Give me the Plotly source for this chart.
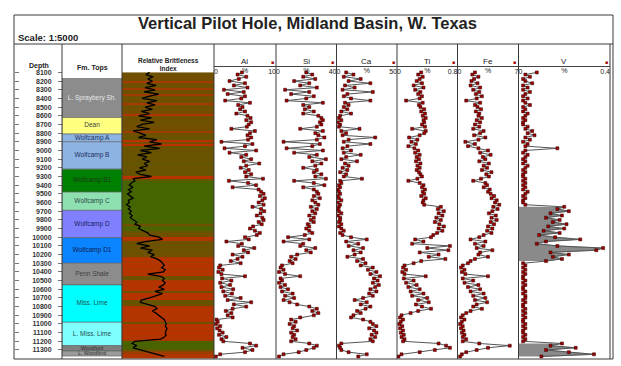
import plotly.graph_objects as go

W, H = 621, 366

# ---------------- data ----------------
# sample depths (ft), 25-ft spacing from 8100 to 11375
depth = [8100 + 25 * i for i in range(132)]

# Relative brittleness index (0-1 scale across the track)
brittleness = [
    0.30, 0.26, 0.34, 0.28, 0.33, 0.27, 0.37, 0.25, 0.36, 0.24, 0.40, 0.29,
    0.22, 0.38, 0.27, 0.36, 0.25, 0.33, 0.21, 0.30, 0.18, 0.32, 0.20, 0.35,
    0.22, 0.16, 0.30, 0.12, 0.20, 0.26, 0.18, 0.38, 0.30, 0.43, 0.24, 0.41,
    0.20, 0.32, 0.17, 0.27, 0.22, 0.30, 0.24, 0.28, 0.19, 0.26, 0.15, 0.20,
    0.32, 0.12, 0.14, 0.10, 0.08, 0.12, 0.07, 0.10, 0.06, 0.09, 0.12, 0.07,
    0.08, 0.05, 0.09, 0.07, 0.10, 0.08, 0.11, 0.09, 0.12, 0.16, 0.14, 0.20,
    0.18, 0.23, 0.28, 0.30, 0.40, 0.44, 0.25, 0.16, 0.30, 0.20, 0.33, 0.28,
    0.35, 0.31, 0.38, 0.42, 0.44, 0.46, 0.43, 0.47, 0.45, 0.28, 0.42, 0.46,
    0.44, 0.47, 0.45, 0.40, 0.46, 0.36, 0.44, 0.38, 0.30, 0.21, 0.20, 0.28,
    0.36, 0.38, 0.33, 0.37, 0.40, 0.44, 0.46, 0.47, 0.48, 0.47, 0.49, 0.48,
    0.47, 0.48, 0.46, 0.42, 0.14, 0.11, 0.16, 0.12, 0.20, 0.30, 0.38, 0.46,
]

# brittleness shading (0 = ductile/green, 1 = brittle/red)
brittle_shade = [
    0.50, 0.50, 0.55, 0.50, 0.85, 0.50, 0.50, 0.80, 0.50, 0.50, 0.80, 0.50,
    0.50, 0.50, 0.85, 0.50, 0.50, 0.50, 0.55, 0.90, 0.50, 0.50, 0.50, 0.50,
    0.50, 0.55, 0.50, 0.80, 0.50, 0.45, 0.45, 0.95, 0.55, 0.95, 0.45, 0.45,
    0.45, 0.42, 0.45, 0.42, 0.45, 0.42, 0.40, 0.45, 0.42, 0.45, 0.40, 0.45,
    0.95, 0.40, 0.15, 0.10, 0.10, 0.10, 0.10, 0.10, 0.10, 0.10, 0.10, 0.10,
    0.10, 0.10, 0.10, 0.10, 0.10, 0.10, 0.10, 0.10, 0.10, 0.15, 0.50, 0.20,
    0.15, 0.45, 0.50, 0.50, 0.95, 0.90, 0.50, 0.45, 0.50, 0.45, 0.50, 0.45,
    0.50, 0.90, 0.95, 0.90, 0.90, 0.95, 0.90, 0.95, 0.90, 0.95, 0.50, 0.45,
    0.90, 0.95, 0.90, 0.95, 0.90, 0.50, 0.95, 0.90, 0.95, 0.45, 0.40, 0.50,
    0.90, 0.95, 0.90, 0.95, 0.90, 0.95, 0.90, 0.50, 0.95, 0.90, 0.95, 0.90,
    0.95, 0.90, 0.95, 0.85, 0.20, 0.10, 0.15, 0.20, 0.60, 0.80, 0.90, 0.90,
]

al = [
    4.5, 3.8, 5.2, 4.0, 2.5, 5.0, 3.2, 5.4, 1.6, 4.8, 2.2, 5.0,
    4.4, 1.8, 5.8, 3.9, 4.6, 4.2, 5.0, 3.6, 5.4, 5.9, 5.2, 6.0,
    5.6, 5.3, 2.8, 6.6, 5.8, 5.4, 6.0, 5.5, 1.2, 6.2, 5.0, 1.7,
    6.8, 2.5, 5.2, 4.4, 6.0, 4.8, 7.3, 5.2, 4.3, 5.6, 5.0, 6.0,
    5.2, 7.9, 2.4, 5.5, 6.8, 3.0, 7.2, 7.6, 8.0, 7.4, 8.2, 7.8,
    7.2, 8.0, 6.2, 7.6, 8.1, 7.5, 6.9, 7.8, 8.0, 7.2, 7.7, 6.3,
    5.8, 6.6, 7.4, 6.9, 5.0, 5.6, 2.0, 4.5, 3.9, 6.5, 4.8, 5.5,
    3.0, 4.6, 3.8, 2.7, 4.3, 1.0, 0.8, 1.4, 0.7, 1.2, 5.0, 1.3,
    2.8, 1.0, 2.6, 1.2, 3.1, 1.5, 2.9, 1.8, 4.3, 2.2, 6.0, 3.2,
    5.2, 3.0, 1.9, 2.8, 2.2, 3.0, 0.4, 0.6, 0.3, 1.0, 0.5, 0.9,
    1.4, 0.8, 2.0, 1.2, 1.5, 5.8, 6.8, 4.6, 6.2, 5.0, 1.0, 0.3,
]

si = [
    20, 24, 18, 26, 12, 22, 16, 27, 6, 22, 10, 25,
    20, 7, 31, 18, 22, 19, 25, 18, 28, 30, 31, 29,
    30, 27, 16, 31, 26, 28, 32, 27, 5, 29, 24, 7,
    31, 12, 27, 22, 33, 24, 30, 26, 18, 27, 25, 30,
    26, 33, 12, 25, 32, 18, 25, 27, 28, 25, 29, 24,
    26, 28, 23, 27, 24, 26, 22, 25, 23, 25, 21, 22,
    20, 22, 24, 19, 8, 22, 5, 18, 16, 26, 20, 23,
    14, 10, 13, 9, 11, 4, 3, 5, 2, 6, 16, 3,
    4, 2, 6, 3, 8, 4, 11, 6, 12, 5, 9, 14,
    22, 27, 24, 28, 25, 16, 10, 13, 9, 12, 11, 14,
    10, 12, 11, 13, 10, 22, 27, 25, 20, 15, 5, 2,
]

ca = [
    8, 14, 6, 20, 10, 28, 7, 15, 5, 30, 9, 6,
    12, 28, 7, 10, 6, 9, 4, 12, 3, 2, 4, 1,
    3, 2, 19, 4, 8, 5, 32, 10, 6, 28, 9, 5,
    12, 6, 20, 8, 4, 17, 7, 10, 5, 9, 3, 8,
    6, 21, 3, 4, 2, 3, 1, 2, 3, 1, 2, 4,
    1, 3, 2, 1, 2, 4, 1, 3, 3, 2, 4, 2,
    4, 6, 3, 5, 12, 25, 8, 18, 10, 22, 14, 20,
    15, 9, 22, 17, 24, 20, 30, 26, 33, 28, 36, 31,
    34, 30, 35, 32, 28, 33, 27, 30, 22, 15, 25, 20,
    28, 24, 17, 20, 14, 12, 22, 28, 30, 33, 27, 31,
    33, 29, 32, 28, 30, 4, 2, 3, 4, 10, 25, 18,
]

ti = [
    0.32, 0.28, 0.34, 0.30, 0.26, 0.33, 0.22, 0.35, 0.24, 0.31, 0.28, 0.33,
    0.30, 0.12, 0.34, 0.29, 0.31, 0.36, 0.32, 0.37, 0.34, 0.38, 0.35, 0.36,
    0.33, 0.37, 0.20, 0.38, 0.36, 0.30, 0.16, 0.27, 0.19, 0.25, 0.15, 0.23,
    0.28, 0.24, 0.30, 0.26, 0.29, 0.25, 0.31, 0.27, 0.30, 0.26, 0.29, 0.31,
    0.33, 0.27, 0.15, 0.30, 0.35, 0.33, 0.37, 0.34, 0.36, 0.32, 0.38, 0.35,
    0.34, 0.36, 0.58, 0.54, 0.62, 0.55, 0.60, 0.52, 0.58, 0.50, 0.56, 0.62,
    0.55, 0.60, 0.53, 0.48, 0.45, 0.24, 0.35, 0.20, 0.70, 0.40, 0.68, 0.30,
    0.55, 0.42, 0.64, 0.32, 0.22, 0.10, 0.08, 0.12, 0.07, 0.10, 0.38, 0.09,
    0.22, 0.12, 0.26, 0.15, 0.30, 0.18, 0.35, 0.20, 0.40, 0.28, 0.42, 0.25,
    0.33, 0.45, 0.28, 0.18, 0.06, 0.04, 0.08, 0.05, 0.03, 0.07, 0.04, 0.08,
    0.05, 0.09, 0.06, 0.10, 0.08, 0.55, 0.65, 0.70, 0.50, 0.30, 0.06, 0.02,
]

fe = [
    2.0, 1.7, 2.4, 1.9, 1.6, 2.3, 1.5, 2.6, 1.8, 2.5, 2.1, 2.8,
    2.2, 1.0, 2.6, 2.0, 2.3, 2.7, 2.1, 2.5, 2.4, 2.8, 2.2, 2.6,
    2.0, 2.5, 1.8, 3.0, 2.6, 1.9, 3.2, 2.4, 0.9, 2.0, 1.2, 2.4,
    3.5, 2.6, 3.8, 2.9, 3.2, 2.5, 3.6, 3.0, 3.4, 2.8, 3.9, 3.3,
    3.6, 2.7, 1.8, 3.2, 3.4, 3.0, 3.7, 3.5, 3.8, 4.2, 3.9, 4.5,
    4.3, 4.8, 4.1, 4.6, 4.0, 3.6, 4.4, 3.9, 4.5, 3.8, 4.2, 3.5,
    4.0, 3.4, 3.9, 3.0, 2.5, 1.5, 3.2, 2.0, 3.0, 2.2, 4.0, 2.6,
    2.4, 3.5, 2.0, 1.5, 1.2, 0.6, 0.4, 0.8, 0.5, 0.9, 3.5, 0.6,
    1.8, 0.8, 2.4, 1.2, 2.6, 1.5, 3.0, 1.8, 3.2, 2.0, 3.4, 2.2,
    1.8, 2.8, 1.5, 1.0, 0.6, 0.4, 0.8, 0.5, 0.3, 0.6, 0.4, 0.7,
    0.5, 0.8, 0.6, 1.0, 0.6, 2.5, 6.0, 3.5, 2.2, 1.0, 0.5, 0.3,
]

v = [
    0.08, 0.03, 0.05, 0.02, 0.03, 0.06, 0.02, 0.04, 0.02, 0.05, 0.03, 0.02,
    0.04, 0.02, 0.03, 0.05, 0.02, 0.03, 0.02, 0.04, 0.03, 0.02, 0.03, 0.02,
    0.02, 0.04, 0.03, 0.06, 0.04, 0.07, 0.03, 0.05, 0.02, 0.04, 0.03, 0.17,
    0.03, 0.02, 0.04, 0.03, 0.02, 0.03, 0.02, 0.04, 0.03, 0.02, 0.03, 0.02,
    0.02, 0.03, 0.02, 0.03, 0.02, 0.03, 0.02, 0.04, 0.03, 0.02, 0.03, 0.02,
    0.02, 0.03, 0.20, 0.17, 0.22, 0.14, 0.19, 0.12, 0.18, 0.15, 0.21, 0.13,
    0.20, 0.11, 0.18, 0.09, 0.16, 0.27, 0.12, 0.08, 0.17, 0.37, 0.34, 0.14,
    0.22, 0.15, 0.19, 0.12, 0.02, 0.03, 0.02, 0.03, 0.02, 0.03, 0.02, 0.02,
    0.03, 0.02, 0.03, 0.02, 0.02, 0.03, 0.02, 0.03, 0.03, 0.02, 0.03, 0.02,
    0.02, 0.03, 0.02, 0.03, 0.02, 0.03, 0.02, 0.02, 0.03, 0.02, 0.03, 0.02,
    0.02, 0.03, 0.02, 0.03, 0.02, 0.19, 0.14, 0.25, 0.12, 0.22, 0.33, 0.10,
]

# shaded (high-V) intervals
v_zones = [(9650, 10275), (11225, 11375)]

element_names = ["Al", "Si", "Ca", "Ti", "Fe", "V"]
element_values = [al, si, ca, ti, fe, v]
element_max = [10, 40, 50, 0.8, 7, 0.4]
element_max_labels = ["10", "40", "50", "0.8", "7", "0.4"]

# formation tops
fm_names = ["L. Spraybery Sh.", "Dean", "Wolfcamp A", "Wolfcamp B", "Wolfcamp B1",
            "Wolfcamp C", "Wolfcamp D", "Wolfcamp D1", "Penn Shale", "Miss. Lime",
            "L. Miss. Lime", "Woodford", "L. Woodford"]
fm_top = [8170, 8620, 8810, 8900, 9215, 9480, 9690, 10005, 10300, 10550, 10980, 11250, 11312]
fm_base = [8620, 8810, 8900, 9215, 9480, 9690, 10005, 10300, 10550, 10980, 11250, 11312, 11370]
fm_colors = ["#8c8c8c", "#ffff80", "#8db3e2", "#8db3e2", "#008000", "#8fe0b0",
             "#8080ff", "#0a84ff", "#8c8c8c", "#00ffff", "#80ffff", "#7f7f7f", "#9a9a9a"]
fm_text_colors = ["#e8e8e8", "#404040", "#203060", "#203060", "#1a3a1a", "#2a4a4a",
                  "#202060", "#102050", "#404040", "#205050", "#205050", "#303030", "#303030"]
fm_text_sizes = [6.5] * 11 + [5.2, 5.2]

depth_ticks = list(range(8100, 11400, 100))

# ---------------- layout helpers ----------------
def px(x):
    return x / W

def py(y):
    return 1 - y / H

Y_TOP, Y_BOT = 66.7, 359
DEPTH_RANGE = [11404, 8034]
elem_edges = [214, 276, 336.5, 397, 457.5, 518.5, 610]
N_EL = len(element_names)

fig = go.Figure()

# formation tops track
for name, t, b, c in zip(fm_names, fm_top, fm_base, fm_colors):
    fig.add_trace(go.Bar(x=[0], y=[b - t], base=[t], width=[1], marker=dict(color=c, line=dict(color="#606060", width=0.6)),
                         xaxis="x", yaxis="y", showlegend=False, hoverinfo="skip", name=name))
fig.add_trace(go.Scatter(x=[0] * len(fm_names), y=[(t + b) / 2 for t, b in zip(fm_top, fm_base)],
                         text=fm_names, mode="text",
                         textfont=dict(size=fm_text_sizes, color=fm_text_colors, family="Liberation Sans"),
                         xaxis="x", yaxis="y", showlegend=False, hoverinfo="skip"))

# brittleness track
fig.add_trace(go.Heatmap(x=[0, 1], y=depth + [11400], z=[[s] for s in brittle_shade],
                         colorscale=[[0, "#3b6a00"], [0.5, "#6e5000"], [1, "#c03000"]], zmin=0, zmax=1,
                         showscale=False, xaxis="x2", yaxis="y", hoverinfo="skip"))
fig.add_trace(go.Scatter(x=brittleness, y=depth, mode="lines", line=dict(color="black", width=1.3),
                         xaxis="x2", yaxis="y", showlegend=False))

# element tracks
for i, (name, vals, m) in enumerate(zip(element_names, element_values, element_max)):
    k = i + 3
    if name == "V":
        for z0, z1 in v_zones:
            xs = [val for d, val in zip(depth, vals) if z0 <= d <= z1]
            ys = [d for d in depth if z0 <= d <= z1]
            fig.add_trace(go.Scatter(x=xs, y=ys, mode="lines", fill="tozerox", fillcolor="#8a8a8a",
                                     line=dict(color="#666", width=0.5), xaxis=f"x{k}", yaxis="y", showlegend=False))
    fig.add_trace(go.Scatter(x=vals, y=depth, mode="lines+markers", name=name,
                             line=dict(color="#555555", width=1),
                             marker=dict(symbol="square", size=3, color="#a00000", line=dict(color="#300000", width=0.5)),
                             xaxis=f"x{k}", yaxis="y", showlegend=False))
    # invisible anchors so the overlay scale axes (min / max labels) are drawn
    for kk in (k + N_EL, k + 2 * N_EL):
        fig.add_trace(go.Scatter(x=[m / 2], y=[8100], mode="markers", marker=dict(opacity=0),
                                 xaxis=f"x{kk}", yaxis="y", showlegend=False, hoverinfo="skip"))

# dummy for the left tick axis
fig.add_trace(go.Scatter(x=[0], y=[8100], mode="markers", marker=dict(opacity=0), xaxis="x", yaxis="y2",
                         showlegend=False, hoverinfo="skip"))

layout = dict(
    width=W, height=H, margin=dict(l=0, r=0, t=0, b=0),
    paper_bgcolor="white", plot_bgcolor="rgba(0,0,0,0)",
    barmode="overlay", showlegend=False,
    font=dict(family="Liberation Sans", color="#222"),
    xaxis=dict(domain=[px(62), px(122)], range=[-0.5, 0.5], visible=False, anchor="y"),
    xaxis2=dict(domain=[px(122), px(214)], range=[0, 1], visible=False, anchor="y"),
    yaxis=dict(domain=[py(Y_BOT), py(Y_TOP)], range=DEPTH_RANGE, anchor="free", position=px(62), side="left",
               showgrid=False, zeroline=False, showline=False, tickvals=depth_ticks,
               ticktext=[str(d) for d in depth_ticks], ticks="outside", ticklen=4, tickcolor="#777",
               ticklabelstandoff=5,
               tickfont=dict(size=7, color="#333", family="Liberation Sans", weight="bold")),
    yaxis2=dict(domain=[py(Y_BOT), py(Y_TOP)], range=DEPTH_RANGE, anchor="free", position=px(14), side="left",
                overlaying="y", showgrid=False, zeroline=False, showline=False, tickvals=depth_ticks,
                ticks="inside", ticklen=4, tickcolor="#777", showticklabels=False),
)
LABEL_POS = py(Y_TOP - 5)
for i, (m, lab) in enumerate(zip(element_max, element_max_labels)):
    k = i + 3
    dom = [px(elem_edges[i]), px(elem_edges[i + 1])]
    common = dict(domain=dom, range=[0, m], side="top", showgrid=False, zeroline=False,
                  ticks="", ticklabeloverflow="allow", tickfont=dict(size=7, color="#222"))
    # main axis: line + unit label
    layout[f"xaxis{k}"] = dict(common, anchor="y", showline=True, linecolor="#444", linewidth=1,
                               tickvals=[m / 2], ticktext=["%"], ticklabelposition="inside")
    # scale minimum, left aligned
    layout[f"xaxis{k + N_EL}"] = dict(common, overlaying=f"x{k}", anchor="free", position=LABEL_POS,
                                      showline=False, tickvals=[0], ticktext=["0"],
                                      ticklabelposition="inside right")
    # scale maximum, right aligned
    layout[f"xaxis{k + 2 * N_EL}"] = dict(common, overlaying=f"x{k}", anchor="free", position=LABEL_POS,
                                          showline=False, tickvals=[m], ticktext=[lab],
                                          ticklabelposition="inside left")
fig.update_layout(**layout)

# frame and column lines
LC = "#3a3a3a"
shapes = [
    dict(type="rect", x0=px(14), x1=px(613), y0=py(359), y1=py(15), line=dict(color=LC, width=1)),
    dict(type="line", x0=px(14), x1=px(613), y0=py(44), y1=py(44), line=dict(color=LC, width=1)),
]
for xe in [62, 122, 214, 276, 336.5, 397, 457.5, 518.5, 610]:
    shapes.append(dict(type="line", x0=px(xe), x1=px(xe), y0=py(359), y1=py(44), line=dict(color=LC, width=1)))
for s in shapes:
    s.update(xref="paper", yref="paper", layer="above")
fig.update_layout(shapes=shapes)

# header texts
ann = [
    dict(x=px(307), y=py(23), text="<b>Vertical Pilot Hole, Midland Basin, W. Texas</b>", font=dict(size=16.5)),
    dict(x=px(16), y=py(37), text="<b>Scale: 1:5000</b>", font=dict(size=9.5), xanchor="left"),
    dict(x=px(39), y=py(66), text="<b>Depth</b>", font=dict(size=7)),
    dict(x=px(92), y=py(68), text="<b>Fm. Tops</b>", font=dict(size=7)),
    dict(x=px(168), y=py(64.5), text="<b>Relative Brittleness<br>Index</b>", font=dict(size=6.5)),
]
for i, name in enumerate(element_names):
    a, b = elem_edges[i], elem_edges[i + 1]
    ann.append(dict(x=px((a + b) / 2), y=py(62), text=name, font=dict(size=8)))
    ann.append(dict(x=px(b - 4), y=py(61.5), text="\u25a0", font=dict(size=5, color="#a00000")))
for a_ in ann:
    a_.setdefault("xanchor", "center")
    a_.update(xref="paper", yref="paper", yanchor="middle", showarrow=False)
fig.update_layout(annotations=ann)

fig.write_html("out.html", post_script="document.body.style.margin='0';", config={"displayModeBar": False})
